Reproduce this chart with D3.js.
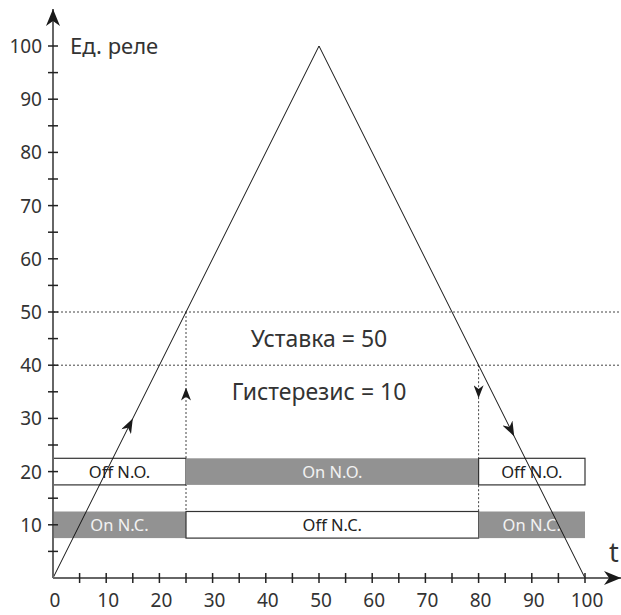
<!DOCTYPE html>
<html>
<head>
<meta charset="utf-8">
<script src="https://cdn.jsdelivr.net/npm/d3@7"></script>
<style>
  body { margin: 0; background: #fff; }
  text { font-family: "Noto Sans", sans-serif; }
</style>
</head>
<body>
<svg id="chart" width="621" height="615"></svg>
<script>
// values
const RELAY = [[0, 0], [50, 100], [100, 0]];
const SETPOINT = 50;
const HYSTERESIS = 10;
const X_TICKS = [0, 10, 20, 30, 40, 50, 60, 70, 80, 90, 100];
const Y_TICKS = [10, 20, 30, 40, 50, 60, 70, 80, 90, 100];
const MINOR = [5, 15, 25, 35, 45, 55, 65, 75, 85, 95];
const BARS = [
  { x0: 0, x1: 25, lo: 17.5, hi: 22.5, label: 'Off N.O.', on: false },
  { x0: 25, x1: 80, lo: 17.5, hi: 22.5, label: 'On N.O.', on: true },
  { x0: 80, x1: 100, lo: 17.5, hi: 22.5, label: 'Off N.O.', on: false },
  { x0: 0, x1: 25, lo: 7.5, hi: 12.5, label: 'On N.C.', on: true },
  { x0: 25, x1: 80, lo: 7.5, hi: 12.5, label: 'Off N.C.', on: false },
  { x0: 80, x1: 100, lo: 7.5, hi: 12.5, label: 'On N.C.', on: true }
];

const svg = d3.select('#chart');
const x = d3.scaleLinear().domain([0, 100]).range([53, 585]);
const y = d3.scaleLinear().domain([0, 100]).range([578, 46]);
const AXIS = '#666';
const TEXT = '#333';

const defs = svg.append('defs');
function marker(id, len, wid, color) {
  defs.append('marker')
    .attr('id', id)
    .attr('viewBox', `0 0 ${len} ${wid}`)
    .attr('refX', len).attr('refY', wid / 2)
    .attr('markerWidth', len).attr('markerHeight', wid)
    .attr('markerUnits', 'userSpaceOnUse')
    .attr('orient', 'auto')
    .append('path')
    .attr('d', `M0,0 L${len},${wid / 2} L0,${wid} L${len * 0.3},${wid / 2} Z`)
    .attr('fill', color);
}
marker('head', 15, 11, '#1a1a1a');
marker('guideHead', 13, 10, '#1a1a1a');
marker('axisHead', 17, 14, '#1a1a1a');

// dotted guides
const dotted = svg.append('g')
  .attr('stroke', '#444')
  .attr('stroke-width', 1)
  .attr('stroke-dasharray', '2,2');

[SETPOINT, SETPOINT - HYSTERESIS].forEach(v => {
  dotted.append('line')
    .attr('x1', x(0)).attr('x2', 621)
    .attr('y1', y(v)).attr('y2', y(v));
});

const upX = SETPOINT / 2;
const downX = 100 - (SETPOINT - HYSTERESIS) / 2;
dotted.append('line')
  .attr('x1', x(upX)).attr('x2', x(upX))
  .attr('y1', y(SETPOINT)).attr('y2', y(12.5));
dotted.append('line')
  .attr('x1', x(downX)).attr('x2', x(downX))
  .attr('y1', y(SETPOINT - HYSTERESIS)).attr('y2', y(12.5));

// arrows on the vertical guides
svg.append('line')
  .attr('x1', x(upX)).attr('x2', x(upX))
  .attr('y1', y(32)).attr('y2', y(35.8))
  .attr('stroke', 'none').attr('marker-end', 'url(#guideHead)');
svg.append('line')
  .attr('x1', x(downX)).attr('x2', x(downX))
  .attr('y1', y(37.5)).attr('y2', y(33.8))
  .attr('stroke', 'none').attr('marker-end', 'url(#guideHead)');

// relay bars
const bars = svg.append('g');
bars.selectAll('rect')
  .data(BARS)
  .join('rect')
  .attr('x', d => x(d.x0))
  .attr('y', d => y(d.hi))
  .attr('width', d => x(d.x1) - x(d.x0))
  .attr('height', d => y(d.lo) - y(d.hi))
  .attr('fill', d => d.on ? '#929292' : '#fff')
  .attr('stroke', d => d.on ? 'none' : '#333')
  .attr('stroke-width', 1.2);

bars.selectAll('text')
  .data(BARS)
  .join('text')
  .attr('x', d => (x(d.x0) + x(d.x1)) / 2)
  .attr('y', d => y((d.lo + d.hi) / 2) + 6)
  .attr('text-anchor', 'middle')
  .attr('font-size', 16.5)
  .attr('fill', d => d.on ? '#f2f2f2' : '#222')
  .text(d => d.label);

// triangle
svg.append('path')
  .datum(RELAY)
  .attr('d', d3.line().x(d => x(d[0])).y(d => y(d[1])))
  .attr('fill', 'none')
  .attr('stroke', '#111')
  .attr('stroke-width', 1);

// direction arrows on the triangle
svg.append('line')
  .attr('x1', x(12)).attr('y1', y(24))
  .attr('x2', x(15)).attr('y2', y(30))
  .attr('stroke', 'none').attr('marker-end', 'url(#head)');
svg.append('line')
  .attr('x1', x(83.5)).attr('y1', y(33))
  .attr('x2', x(86.7)).attr('y2', y(26.6))
  .attr('stroke', 'none').attr('marker-end', 'url(#head)');

// axes
const axes = svg.append('g').attr('stroke', AXIS).attr('stroke-width', 2);
axes.append('line')
  .attr('x1', x(0)).attr('x2', x(0))
  .attr('y1', y(0)).attr('y2', 9)
  .attr('marker-end', 'url(#axisHead)');
axes.append('line')
  .attr('x1', x(0)).attr('x2', 621)
  .attr('y1', y(0)).attr('y2', y(0))
  .attr('marker-end', 'url(#axisHead)');

const ticks = svg.append('g').attr('stroke', '#222').attr('stroke-width', 1.5);
Y_TICKS.concat(MINOR).forEach(v => {
  ticks.append('line')
    .attr('x1', x(0) - 5).attr('x2', x(0) + 5)
    .attr('y1', y(v)).attr('y2', y(v));
});
X_TICKS.slice(1).concat(MINOR).forEach(v => {
  ticks.append('line')
    .attr('x1', x(v)).attr('x2', x(v))
    .attr('y1', y(0) - 5).attr('y2', y(0) + 5);
});

svg.append('g').selectAll('text')
  .data(Y_TICKS)
  .join('text')
  .attr('x', 42)
  .attr('y', d => y(d) + 7)
  .attr('text-anchor', 'end')
  .attr('font-size', 19)
  .attr('fill', TEXT)
  .text(d => d);

svg.append('g').selectAll('text')
  .data(X_TICKS)
  .join('text')
  .attr('x', d => x(d) + 2)
  .attr('y', 607)
  .attr('text-anchor', 'middle')
  .attr('font-size', 19)
  .attr('fill', TEXT)
  .text(d => d);

svg.append('text')
  .attr('x', 70).attr('y', 54)
  .attr('font-size', 22).attr('fill', TEXT)
  .text('Ед. реле');

svg.append('text')
  .attr('x', 609).attr('y', 562)
  .attr('font-size', 27).attr('fill', TEXT)
  .text('t');

svg.append('text')
  .attr('x', x(50)).attr('y', y(45) + 8)
  .attr('text-anchor', 'middle')
  .attr('font-size', 23).attr('fill', TEXT)
  .text('Уставка = ' + SETPOINT);

svg.append('text')
  .attr('x', x(50)).attr('y', y(35) + 8)
  .attr('text-anchor', 'middle')
  .attr('font-size', 23).attr('fill', TEXT)
  .text('Гистерезис = ' + HYSTERESIS);
</script>
</body>
</html>
